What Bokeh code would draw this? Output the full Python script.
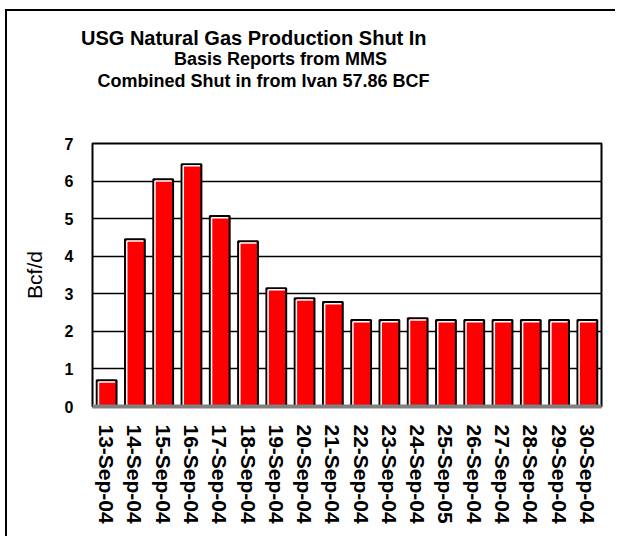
from bokeh.plotting import figure
from bokeh.models import FixedTicker, Range1d, Title
from bokeh.embed import file_html
from bokeh.resources import INLINE

dates = ["13-Sep-04", "14-Sep-04", "15-Sep-04", "16-Sep-04", "17-Sep-04", "18-Sep-04",
         "19-Sep-04", "20-Sep-04", "21-Sep-04", "22-Sep-04", "23-Sep-04", "24-Sep-04",
         "25-Sep-05", "26-Sep-04", "27-Sep-04", "28-Sep-04", "29-Sep-04", "30-Sep-04"]
shut_in = [0.70, 4.45, 6.05, 6.45, 5.07, 4.40, 3.15, 2.88, 2.78, 2.30, 2.30, 2.35,
           2.30, 2.30, 2.30, 2.30, 2.30, 2.30]
y_ticks = [0, 1, 2, 3, 4, 5, 6, 7]

title_lines = ["USG Natural Gas Production Shut In",
               "Basis Reports from MMS",
               "Combined Shut in from Ivan 57.86 BCF"]
y_label = "Bcf/d"

FONT = "Liberation Sans"
W, H = 615, 536

xs = list(range(len(dates)))

p = figure(width=W, height=H, output_backend="svg", toolbar_location=None,
           x_range=Range1d(-0.5, len(dates) - 0.5), y_range=Range1d(0, 7),
           min_border_left=92, min_border_top=143, min_border_right=14, min_border_bottom=130)
# outer chart-area border (left and top edges)
p.styles = {"box-shadow": "inset 5px 9px 0 0 white, inset 7px 11px 0 0 black"}

p.background_fill_color = "white"
p.border_fill_color = None
p.outline_line_color = "black"
p.outline_line_width = 2

p.xgrid.grid_line_color = None
p.ygrid.grid_line_color = "black"
p.ygrid.grid_line_width = 1.6
p.ygrid.ticker = FixedTicker(ticks=y_ticks)

bw = 0.7
p.vbar(x=xs, top=shut_in, width=bw, bottom=0, fill_color="#FF0000",
       line_color="black", line_width=2)
# white bevel highlight (top and left inner edges)
p.segment(x0=[x - bw / 2 + 0.06 for x in xs], x1=[x + bw / 2 - 0.05 for x in xs],
          y0=[v - 0.045 for v in shut_in], y1=[v - 0.045 for v in shut_in],
          line_color="white", line_width=1.5)
p.segment(x0=[x - bw / 2 + 0.06 for x in xs], x1=[x - bw / 2 + 0.06 for x in xs],
          y0=[0.03 for v in shut_in], y1=[v - 0.045 for v in shut_in],
          line_color="white", line_width=1.5)

# y axis
ya = p.yaxis[0]
ya.ticker = FixedTicker(ticks=y_ticks)
ya.axis_line_color = None
ya.major_tick_line_color = None
ya.minor_tick_line_color = None
ya.major_tick_out = 0
ya.major_tick_in = 0
ya.major_label_standoff = 19
ya.major_label_text_font = FONT
ya.major_label_text_font_style = "bold"
ya.major_label_text_font_size = "16px"
ya.major_label_text_color = "black"
ya.axis_label = y_label
ya.axis_label_text_font = FONT
ya.axis_label_text_font_style = "normal"
ya.axis_label_text_font_size = "21px"
ya.axis_label_text_color = "black"
ya.axis_label_standoff = 16

# x axis
xa = p.xaxis[0]
xa.ticker = FixedTicker(ticks=xs)
xa.major_label_overrides = {i: d for i, d in enumerate(dates)}
xa.major_label_orientation = "vertical"
xa.axis_line_color = "#808080"
xa.axis_line_width = 4
xa.major_tick_line_color = None
xa.minor_tick_line_color = None
xa.major_tick_out = 0
xa.major_tick_in = 0
xa.major_label_standoff = 18
xa.major_label_text_font = FONT
xa.major_label_text_font_style = "bold"
xa.major_label_text_font_size = "21px"
xa.major_label_text_color = "black"

# title block: panels stacked from the frame outward
# spacer between title block and plot frame
p.add_layout(Title(text=" ", text_font_size="1px", standoff=47.4), "above")
# (text, size, horizontal offset from frame left, vertical align, standoff)
specs = [(title_lines[2], "18px", 5, "top", 0),
         (title_lines[1], "18px", 81.5, "top", 0),
         (title_lines[0], "20px", -11.5, "bottom", 0)]
for t, s, off, va, so in specs:
    p.add_layout(Title(text=t, align="left", offset=off, vertical_align=va, standoff=so,
                       text_font=FONT, text_font_style="bold", text_font_size=s,
                       text_color="black"), "above")

open("out.html", "w").write(file_html(p, INLINE))
